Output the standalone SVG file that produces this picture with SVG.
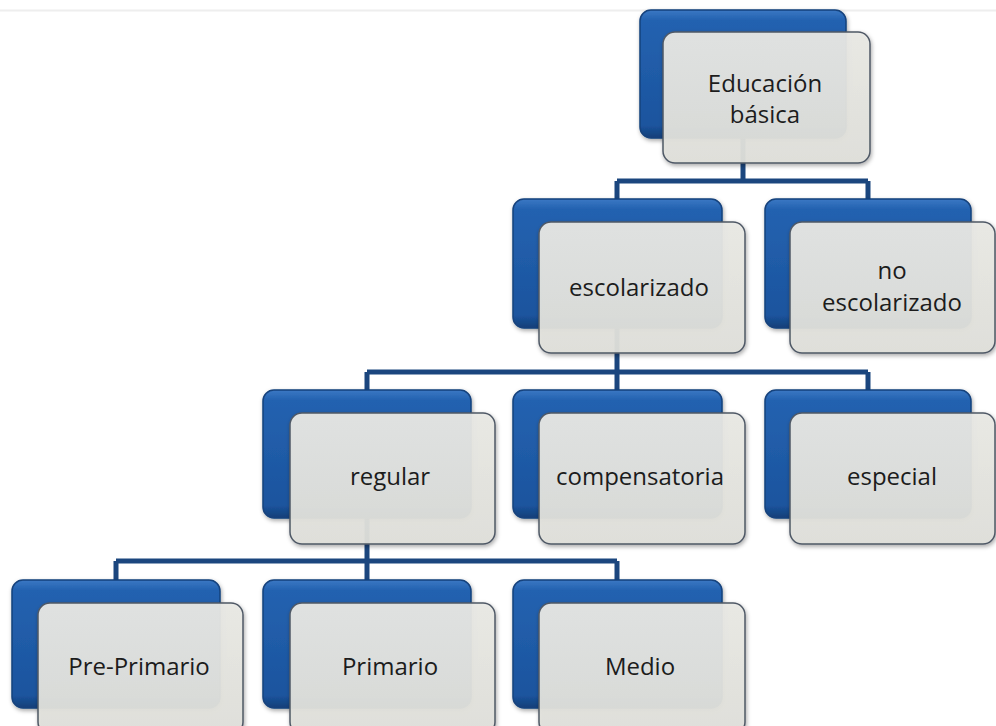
<svg xmlns="http://www.w3.org/2000/svg" width="996" height="726" viewBox="0 0 996 726">
<defs>
<linearGradient id="blue" x1="0" y1="0" x2="0" y2="1">
<stop offset="0" stop-color="#3a78c4"/>
<stop offset="0.08" stop-color="#2462b0"/>
<stop offset="0.9" stop-color="#1b549e"/>
<stop offset="1" stop-color="#143f78"/>
</linearGradient>
<linearGradient id="light" x1="0" y1="0" x2="0" y2="1">
<stop offset="0" stop-color="#e9e9e5"/>
<stop offset="1" stop-color="#e0e0da"/>
</linearGradient>
<filter id="sh" x="-10%" y="-10%" width="125%" height="130%">
<feDropShadow dx="1" dy="2" stdDeviation="2" flood-color="#000" flood-opacity="0.35"/>
</filter>
</defs>
<style>
.b{fill:url(#blue);stroke:#16427c;stroke-width:1.5}
.l{fill:url(#light);fill-opacity:0.94;stroke:#4f5966;stroke-width:1.5}
.c{fill:none;stroke:#1b467e;stroke-width:5}
text{font-family:"Open Sans","Liberation Sans",sans-serif;font-size:24px;fill:#1c1c1c;text-anchor:middle}
</style>
<rect width="996" height="726" fill="#ffffff"/>
<line x1="0" y1="10.5" x2="996" y2="10.5" stroke="#eeeeee" stroke-width="2"/>
<g id="connectors">
<path class="c" d="M743 138 V181 M617 181 H868 M617 181 V200 M868 181 V200"/>
<path class="c" d="M617 328 V372 M367 372 H868 M367 372 V392 M617 372 V392 M868 372 V392"/>
<path class="c" d="M367 518 V561 M116 561 H617 M116 561 V582 M367 561 V582 M617 561 V582"/>
</g>
<g id="n-educacion">
<rect class="b" x="640" y="10" width="206" height="128" rx="11" filter="url(#sh)"/>
<rect class="l" x="663" y="32" width="207" height="131" rx="12" filter="url(#sh)"/>
<text x="765" y="92">Educación</text>
<text x="765" y="123">básica</text>
</g>
<g id="n-escolarizado">
<rect class="b" x="513" y="199" width="209" height="129" rx="11" filter="url(#sh)"/>
<rect class="l" x="539" y="222" width="206" height="131" rx="12" filter="url(#sh)"/>
<text x="639" y="296">escolarizado</text>
</g>
<g id="n-noescolarizado">
<rect class="b" x="765" y="199" width="206" height="129" rx="11" filter="url(#sh)"/>
<rect class="l" x="790" y="222" width="205" height="131" rx="12" filter="url(#sh)"/>
<text x="892" y="279">no</text>
<text x="892" y="311">escolarizado</text>
</g>
<g id="n-regular">
<rect class="b" x="263" y="390" width="208" height="128" rx="11" filter="url(#sh)"/>
<rect class="l" x="290" y="413" width="205" height="131" rx="12" filter="url(#sh)"/>
<text x="390" y="485">regular</text>
</g>
<g id="n-compensatoria">
<rect class="b" x="513" y="390" width="209" height="128" rx="11" filter="url(#sh)"/>
<rect class="l" x="539" y="413" width="206" height="131" rx="12" filter="url(#sh)"/>
<text x="640" y="485">compensatoria</text>
</g>
<g id="n-especial">
<rect class="b" x="765" y="390" width="206" height="128" rx="11" filter="url(#sh)"/>
<rect class="l" x="790" y="413" width="205" height="131" rx="12" filter="url(#sh)"/>
<text x="892" y="485">especial</text>
</g>
<g id="n-preprimario">
<rect class="b" x="12" y="580" width="208" height="128" rx="11" filter="url(#sh)"/>
<rect class="l" x="38" y="603" width="205" height="131" rx="12" filter="url(#sh)"/>
<text x="139" y="675">Pre-Primario</text>
</g>
<g id="n-primario">
<rect class="b" x="263" y="580" width="208" height="128" rx="11" filter="url(#sh)"/>
<rect class="l" x="290" y="603" width="205" height="131" rx="12" filter="url(#sh)"/>
<text x="390" y="675">Primario</text>
</g>
<g id="n-medio">
<rect class="b" x="513" y="580" width="209" height="128" rx="11" filter="url(#sh)"/>
<rect class="l" x="539" y="603" width="206" height="131" rx="12" filter="url(#sh)"/>
<text x="640" y="675">Medio</text>
</g>
</svg>
